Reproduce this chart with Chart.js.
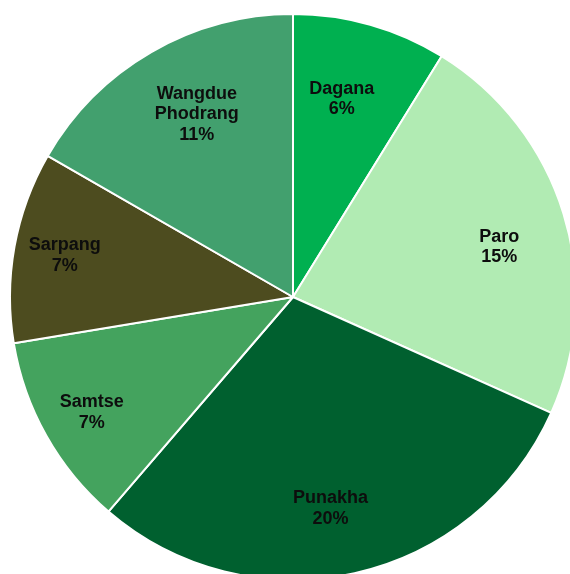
<!DOCTYPE html>
<html>
<head>
<meta charset="utf-8">
<script src="https://cdn.jsdelivr.net/npm/chart.js@4/dist/chart.umd.min.js"></script>
<style>
  html, body { margin: 0; padding: 0; background: #ffffff; overflow: hidden; }
  body { width: 570px; height: 574px; position: relative; }
  #wrap { position: absolute; left: 9px; top: 13px; width: 568px; height: 568px; }
</style>
</head>
<body>
<div id="wrap"><canvas id="pieChart"></canvas></div>
<script>
// districts and their shares (%)
const districts = ["Dagana", "Paro", "Punakha", "Samtse", "Sarpang", "Wangdue Phodrang"];
const shares = [5.8, 15.1, 19.5, 7.3, 7.2, 11.0];
const sliceColors = ["#00b050", "#b1ebb3", "#00602f", "#44a35e", "#4d4c1f", "#42a06e"];

// label placement ("best fit" style): fraction of radius, and a small turn in degrees
const labelRadius = [0.72, 0.75, 0.76, 0.82, 0.82, 0.73];
const labelTurn = [-2, 3.5, 2.5, -0.5, 0, 2.3];

// draws "name / xx%" inside each slice
const sliceLabels = {
  id: "sliceLabels",
  afterDatasetsDraw(chart) {
    const ctx = chart.ctx;
    const meta = chart.getDatasetMeta(0);
    ctx.save();
    ctx.font = "bold 18px 'Liberation Sans', Arial, sans-serif";
    ctx.fillStyle = "#0d0d0d";
    ctx.textAlign = "center";
    ctx.textBaseline = "middle";
    meta.data.forEach((arc, i) => {
      const p = arc.getProps(["x", "y", "startAngle", "endAngle", "outerRadius"], true);
      const mid = (p.startAngle + p.endAngle) / 2 + labelTurn[i] * Math.PI / 180;
      const r = p.outerRadius * labelRadius[i];
      const cx = p.x + Math.cos(mid) * r;
      const cy = p.y + Math.sin(mid) * r;
      const lines = districts[i].split(" ");
      lines.push(Math.round(shares[i]) + "%");
      const lh = 20.5;
      const top = cy - (lines.length - 1) * lh / 2;
      lines.forEach((t, k) => ctx.fillText(t, cx, top + k * lh));
    });
    ctx.restore();
  }
};

const pieChart = new Chart(document.getElementById("pieChart"), {
  type: "pie",
  data: {
    labels: districts,
    datasets: [{
      data: shares,
      backgroundColor: sliceColors,
      borderColor: "#ffffff",
      borderWidth: 2,
    }],
  },
  options: {
    responsive: true,
    maintainAspectRatio: false,
    animation: false,
    layout: { padding: 0 },
    plugins: {
      legend: { display: false },
      tooltip: { enabled: false },
    },
  },
  plugins: [sliceLabels],
});
</script>
</body>
</html>
